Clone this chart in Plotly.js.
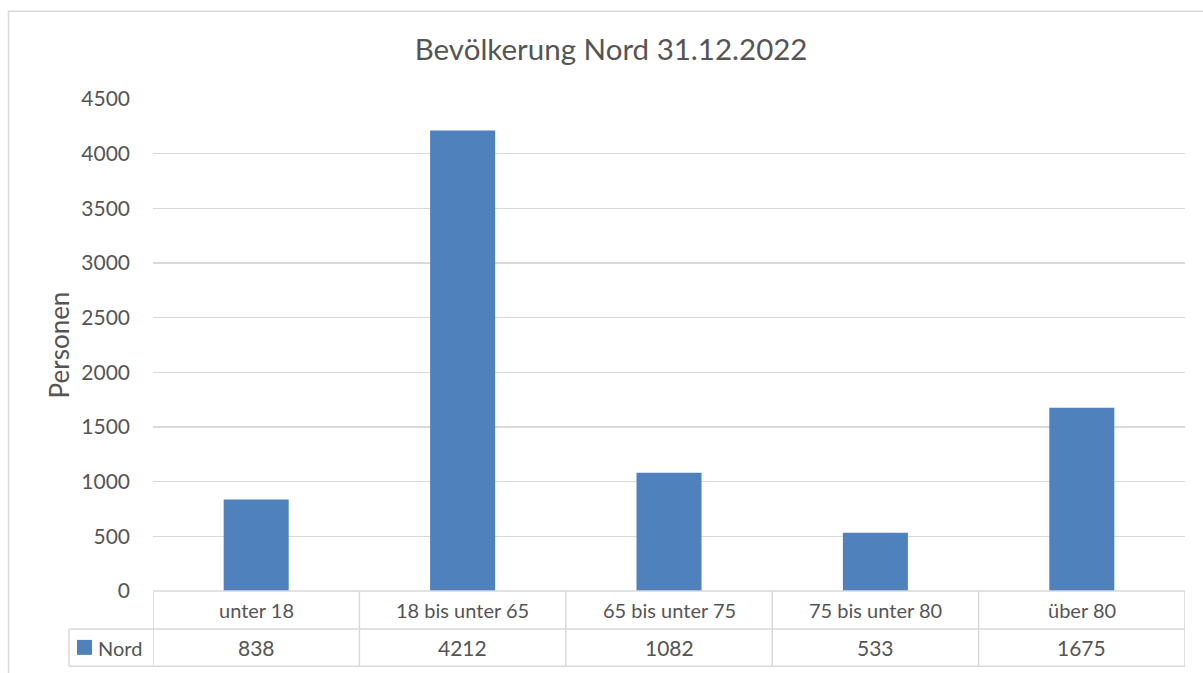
<!DOCTYPE html>
<html>
<head>
<meta charset="utf-8">
<script src="https://cdn.plot.ly/plotly-3.0.1.min.js"></script>
<style>
html,body{margin:0;padding:0;background:#fff;}
#chart{width:1203px;height:673px;}
</style>
</head>
<body>
<div id="chart"></div>
<script>
const categories = ["unter 18", "18 bis unter 65", "65 bis unter 75", "75 bis unter 80", "über 80"];
const seriesName = "Nord";
const values = [838, 4212, 1082, 533, 1675];
const chartTitle = "Bevölkerung Nord 31.12.2022";
const yTitle = "Personen";
const yTicks = [0, 500, 1000, 1500, 2000, 2500, 3000, 3500, 4000, 4500];

const W = 1203, H = 673;
const L = 153, R = 1185, T = 98.5, B = 591.5;
const px = x => (x - L) / (R - L);
const py = y => (B - y) / (B - T);
const txt = "#555555", grid = "#d9d9d9", barColor = "#4f81bd";
const FONT = "Lato, 'Open Sans', sans-serif";

const n = categories.length;
const shapes = [];
// outer chart border (extends past the right/bottom edge)
shapes.push({type:"rect", xref:"paper", yref:"paper", x0:px(8.5), x1:px(1300), y0:py(10.5), y1:py(800),
  line:{color:grid, width:1.5}, fillcolor:"rgba(0,0,0,0)", layer:"below"});
// table horizontal lines
const rowTop = py(B), rowMid = py(629.5), rowBot = py(667);
shapes.push({type:"line", xref:"x", yref:"paper", x0:-0.5, x1:n-0.5, y0:rowTop, y1:rowTop, line:{color:grid, width:1.5}});
shapes.push({type:"line", xref:"paper", yref:"paper", x0:px(69), x1:1, y0:rowMid, y1:rowMid, line:{color:grid, width:1.5}});
shapes.push({type:"line", xref:"paper", yref:"paper", x0:px(69), x1:1, y0:rowBot, y1:rowBot, line:{color:grid, width:1.5}});
// table vertical lines
for (let i = 0; i <= n; i++) {
  shapes.push({type:"line", xref:"x", yref:"paper", x0:i-0.5, x1:i-0.5, y0:rowTop, y1:rowBot, line:{color:grid, width:1.5}});
}
shapes.push({type:"line", xref:"paper", yref:"paper", x0:px(69), x1:px(69), y0:rowMid, y1:rowBot, line:{color:grid, width:1.5}});
// legend key square
shapes.push({type:"rect", xref:"paper", yref:"paper", x0:px(77), x1:px(92), y0:py(655.5), y1:py(640.5),
  line:{width:0}, fillcolor:barColor});

const annotations = [];
categories.forEach((c, i) => {
  annotations.push({x:c, xref:"x", y:py(611), yref:"paper", text:c, showarrow:false,
    xanchor:"center", yanchor:"middle", font:{family:FONT, size:20, color:txt}});
  annotations.push({x:c, xref:"x", y:py(648.5), yref:"paper", text:String(values[i]), showarrow:false,
    xanchor:"center", yanchor:"middle", font:{family:FONT, size:21, color:txt}});
});
annotations.push({x:px(96), xref:"paper", y:py(648.5), yref:"paper", text:seriesName, showarrow:false,
  xanchor:"left", yanchor:"middle", font:{family:FONT, size:20, color:txt}});

const data = [{
  type:"bar", x:categories, y:values, name:seriesName,
  marker:{color:barColor, line:{width:0}}, hoverinfo:"x+y"
}];

const layout = {
  width:W, height:H,
  margin:{l:L, r:W-R, t:T, b:H-B, pad:0},
  paper_bgcolor:"#fff", plot_bgcolor:"#fff",
  showlegend:false,
  bargap:0.685,
  title:{text:chartTitle, x:0.508, xanchor:"center", y:1-50/H, yanchor:"middle",
    font:{family:FONT, size:29.5, color:txt}},
  xaxis:{type:"category", showticklabels:false, showgrid:false, zeroline:false, showline:false,
    ticks:"", range:[-0.5, n-0.5], fixedrange:true},
  yaxis:{range:[0, 4500], tickvals:yTicks, ticktext:yTicks.map(String), showgrid:true, gridcolor:grid, gridwidth:1.5,
    zeroline:false, showline:false, ticks:"", ticklabelstandoff:22,
    tickfont:{family:FONT, size:21, color:txt},
    title:{text:yTitle, standoff:4, font:{family:FONT, size:26, color:txt}}, fixedrange:true},
  shapes:shapes, annotations:annotations
};

Plotly.newPlot("chart", data, layout, {displayModeBar:false, staticPlot:true});
</script>
</body>
</html>
